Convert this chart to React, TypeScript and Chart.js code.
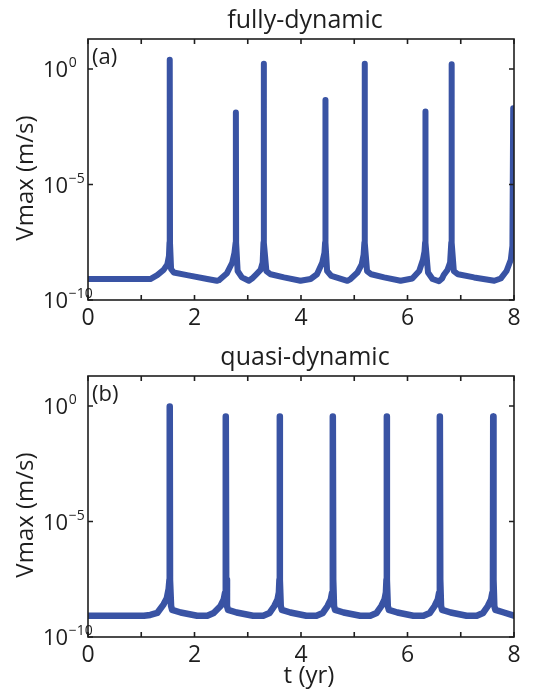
import React, { useEffect, useRef } from 'react';
import { Chart, registerables } from 'chart.js';

Chart.register(...registerables);

// Maximum slip velocity (m/s) against time (yr), pairs of [t, Vmax]
const fullyDynamic: [number, number][] = [
  [0, 8.1e-10], [1.17, 8.1e-10], [1.3, 1.2e-9], [1.42, 2.0e-9], [1.49, 3.5e-9], [1.52, 8e-9],
  [1.53, 3e-8], [1.535, 2.5], [1.54, 3e-8],
  [1.56, 2.2e-9], [1.61, 1.55e-9], [1.86, 1.2e-9], [2.24, 8.1e-10], [2.42, 6.8e-10],
  [2.46, 7.2e-10], [2.61, 1.45e-9], [2.71, 4.2e-9], [2.75, 1.1e-8],
  [2.772, 3e-8], [2.777, 1.3e-2], [2.782, 3e-8],
  [2.81, 1.8e-9], [2.89, 9.5e-10], [3.02, 6.8e-10], [3.08, 8.5e-10], [3.16, 1.3e-9], [3.24, 2.0e-9], [3.28, 4.2e-9],
  [3.295, 3e-8], [3.3, 1.7], [3.305, 3e-8],
  [3.35, 1.8e-9], [3.43, 1.3e-9], [3.68, 9.5e-10], [3.99, 6.8e-10], [4.18, 8.1e-10], [4.3, 1.3e-9], [4.4, 4.2e-9], [4.44, 1.1e-8],
  [4.452, 3e-8], [4.457, 4.6e-2], [4.462, 3e-8],
  [4.49, 1.8e-9], [4.57, 1.1e-9], [4.87, 6.8e-10], [4.93, 8.1e-10], [5.06, 1.55e-9], [5.14, 3.5e-9], [5.175, 9e-9],
  [5.19, 3e-8], [5.195, 1.7], [5.2, 3e-8],
  [5.24, 1.8e-9], [5.32, 1.3e-9], [5.56, 9.5e-10], [5.87, 6.8e-10], [6.09, 8.5e-10], [6.22, 1.8e-9], [6.29, 5.5e-9], [6.32, 1.3e-8],
  [6.33, 3e-8], [6.335, 1.45e-2], [6.34, 3e-8],
  [6.385, 1.55e-9], [6.47, 8.1e-10], [6.59, 6.5e-10], [6.65, 8.5e-10], [6.68, 1.2e-9], [6.75, 2.0e-9], [6.8, 4.2e-9],
  [6.822, 3e-8], [6.827, 1.6], [6.832, 3e-8],
  [6.87, 1.8e-9], [6.95, 1.3e-9], [7.25, 9.5e-10], [7.63, 6.8e-10], [7.75, 8.5e-10], [7.86, 1.8e-9], [7.94, 5.5e-9], [7.97, 2.2e-8],
  [7.985, 2e-2],
];

const quasiDynamic: [number, number][] = [
  [0, 8.3e-10], [1.05, 8.3e-10], [1.17, 9e-10], [1.3, 1.1e-9], [1.42, 2.6e-9], [1.48, 4.7e-9], [1.515, 1.2e-8],
  [1.53, 3e-8], [1.535, 0.95], [1.54, 3e-8],
  [1.56, 2.2e-9], [1.58, 1.5e-9], [1.74, 1.15e-9], [2.05, 8.3e-10], [2.24, 8.3e-10], [2.36, 1.1e-9], [2.49, 2.2e-9], [2.55, 4.3e-9], [2.575, 8.5e-9],
  [2.585, 3e-8], [2.59, 0.35], [2.595, 3e-8],
  [2.61, 2.2e-9], [2.63, 1.5e-9], [2.79, 1.15e-9], [3.1, 8.3e-10], [3.29, 8.3e-10], [3.41, 1.1e-9], [3.5, 2.2e-9], [3.56, 4.3e-9], [3.585, 8.5e-9],
  [3.595, 3e-8], [3.6, 0.35], [3.605, 3e-8],
  [3.62, 2.2e-9], [3.64, 1.5e-9], [3.8, 1.15e-9], [4.1, 8.3e-10], [4.29, 8.3e-10], [4.41, 1.1e-9], [4.5, 2.2e-9], [4.56, 4.3e-9], [4.585, 8.5e-9],
  [4.595, 3e-8], [4.6, 0.35], [4.605, 3e-8],
  [4.62, 2.2e-9], [4.64, 1.5e-9], [4.8, 1.15e-9], [5.11, 8.3e-10], [5.3, 8.3e-10], [5.42, 1.1e-9], [5.51, 2.2e-9], [5.57, 4.3e-9], [5.595, 8.5e-9],
  [5.605, 3e-8], [5.61, 0.35], [5.615, 3e-8],
  [5.63, 2.2e-9], [5.65, 1.5e-9], [5.81, 1.15e-9], [6.11, 8.3e-10], [6.3, 8.3e-10], [6.42, 1.1e-9], [6.51, 2.2e-9], [6.57, 4.3e-9], [6.595, 8.5e-9],
  [6.605, 3e-8], [6.61, 0.35], [6.615, 3e-8],
  [6.63, 2.2e-9], [6.65, 1.5e-9], [6.81, 1.15e-9], [7.11, 8.3e-10], [7.3, 8.3e-10], [7.42, 1.1e-9], [7.51, 2.2e-9], [7.57, 4.3e-9], [7.595, 8.5e-9],
  [7.605, 3e-8], [7.61, 0.35], [7.615, 3e-8],
  [7.63, 2.2e-9], [7.65, 1.5e-9], [7.81, 1.15e-9], [8.0, 8.3e-10],
];

const yTickValues = [1e0, 1e-5, 1e-10];
const yTickExponents = ['0', '\u22125', '\u221210'];
const xTickValues = [0, 1, 2, 3, 4, 5, 6, 7, 8];
const xTickLabels = ['0', '', '2', '', '4', '', '6', '', '8'];

const LINE_COLOR = 'rgb(57, 83, 164)';
const INK = '#1e1e1e';
const FONT = '"Open Sans", "DejaVu Sans", sans-serif';

const axesDecor = {
  id: 'axesDecor',
  afterDatasetsDraw(chart: any, _args: any, opts: any) {
    const { ctx, chartArea: a, scales } = chart;
    const xs = scales.x;
    const ys = scales.y;
    ctx.save();

    // box and inward ticks
    ctx.strokeStyle = INK;
    ctx.lineWidth = 1.6;
    ctx.beginPath();
    for (const v of xTickValues) {
      const px = xs.getPixelForValue(v);
      ctx.moveTo(px, a.bottom);
      ctx.lineTo(px, a.bottom - 5);
      ctx.moveTo(px, a.top);
      ctx.lineTo(px, a.top + 5);
    }
    for (const v of yTickValues) {
      const py = ys.getPixelForValue(v);
      ctx.moveTo(a.left, py);
      ctx.lineTo(a.left + 5, py);
      ctx.moveTo(a.right, py);
      ctx.lineTo(a.right - 5, py);
    }
    ctx.stroke();
    ctx.strokeRect(a.left, a.top, a.right - a.left, a.bottom - a.top);

    ctx.fillStyle = INK;
    ctx.textBaseline = 'alphabetic';

    // y tick labels as 10 with a raised exponent
    yTickValues.forEach((v, i) => {
      const py = ys.getPixelForValue(v);
      ctx.font = `22px ${FONT}`;
      ctx.textAlign = 'left';
      ctx.fillText('10', 43, py + 8);
      const w = ctx.measureText('10').width;
      ctx.font = `14px ${FONT}`;
      ctx.fillText(yTickExponents[i], 43 + w + 0.5, py - 2);
    });

    // x tick labels
    ctx.font = `23px ${FONT}`;
    ctx.textAlign = 'center';
    xTickValues.forEach((v, i) => {
      if (!xTickLabels[i]) return;
      ctx.fillText(xTickLabels[i], xs.getPixelForValue(v), a.bottom + 25);
    });

    // panel title
    ctx.font = `25px ${FONT}`;
    ctx.textAlign = 'center';
    ctx.fillText(opts.title, 305, a.top - 11);

    // panel tag
    ctx.font = `22px ${FONT}`;
    ctx.textAlign = 'left';
    ctx.fillText(opts.tag, a.left + 4, a.top + 25);

    // x axis title
    if (opts.xTitle) {
      ctx.font = `24px ${FONT}`;
      ctx.textAlign = 'center';
      ctx.fillText(opts.xTitle, 309, a.bottom + 46);
    }

    // y axis title
    ctx.save();
    ctx.translate(33, (a.top + a.bottom) / 2 + 8.5);
    ctx.rotate(-Math.PI / 2);
    ctx.font = `24px ${FONT}`;
    ctx.textAlign = 'center';
    ctx.fillText('Vmax (m/s)', 0, 0);
    ctx.restore();

    ctx.restore();
  },
};

type PanelProps = {
  series: [number, number][];
  title: string;
  tag: string;
  xTitle?: string;
  top: number;
  height: number;
  padTop: number;
  xHeight: number;
  width: number;
};

function Panel({ series, title, tag, xTitle, top, height, padTop, xHeight, width }: PanelProps) {
  const ref = useRef<HTMLCanvasElement | null>(null);

  useEffect(() => {
    if (!ref.current) return;
    const chart = new Chart(ref.current, {
      type: 'line',
      data: {
        datasets: [
          {
            data: series.map(([t, v]) => ({ x: t, y: v })),
            borderColor: LINE_COLOR,
            borderWidth: width,
            pointRadius: 0,
            tension: 0,
            fill: false,
            borderCapStyle: 'round',
            borderJoinStyle: 'round',
          },
        ],
      },
      options: {
        animation: false,
        responsive: false,
        events: [],
        layout: { padding: { left: 0, top: padTop, right: 40, bottom: 0 } },
        plugins: {
          legend: { display: false },
          tooltip: { enabled: false },
          title: { display: false },
          axesDecor: { title, tag, xTitle },
        } as any,
        scales: {
          x: {
            type: 'linear',
            min: 0,
            max: 8,
            grid: { display: false },
            border: { display: false },
            ticks: { display: false },
            afterFit: (s: any) => {
              s.height = xHeight;
            },
          },
          y: {
            type: 'logarithmic',
            min: 1e-10,
            max: 20,
            grid: { display: false },
            border: { display: false },
            ticks: { display: false },
            afterFit: (s: any) => {
              s.width = 88;
            },
          },
        },
      },
      plugins: [axesDecor as any],
    });
    return () => chart.destroy();
  }, [series, title, tag, xTitle, padTop, xHeight, width]);

  return (
    <canvas
      ref={ref}
      width={554}
      height={height}
      style={{ position: 'absolute', left: 0, top, width: 554, height }}
    />
  );
}

export default function App() {
  return (
    <div style={{ position: 'absolute', left: 0, top: 0, width: 554, height: 693, background: '#fff' }}>
      <Panel series={fullyDynamic} title="fully-dynamic" tag="(a)" top={0} height={330} padTop={39} xHeight={30} width={6} />
      <Panel
        series={quasiDynamic}
        title="quasi-dynamic"
        tag="(b)"
        xTitle="t (yr)"
        top={330}
        height={363}
        padTop={46}
        xHeight={56}
        width={6.5}
      />
    </div>
  );
}
